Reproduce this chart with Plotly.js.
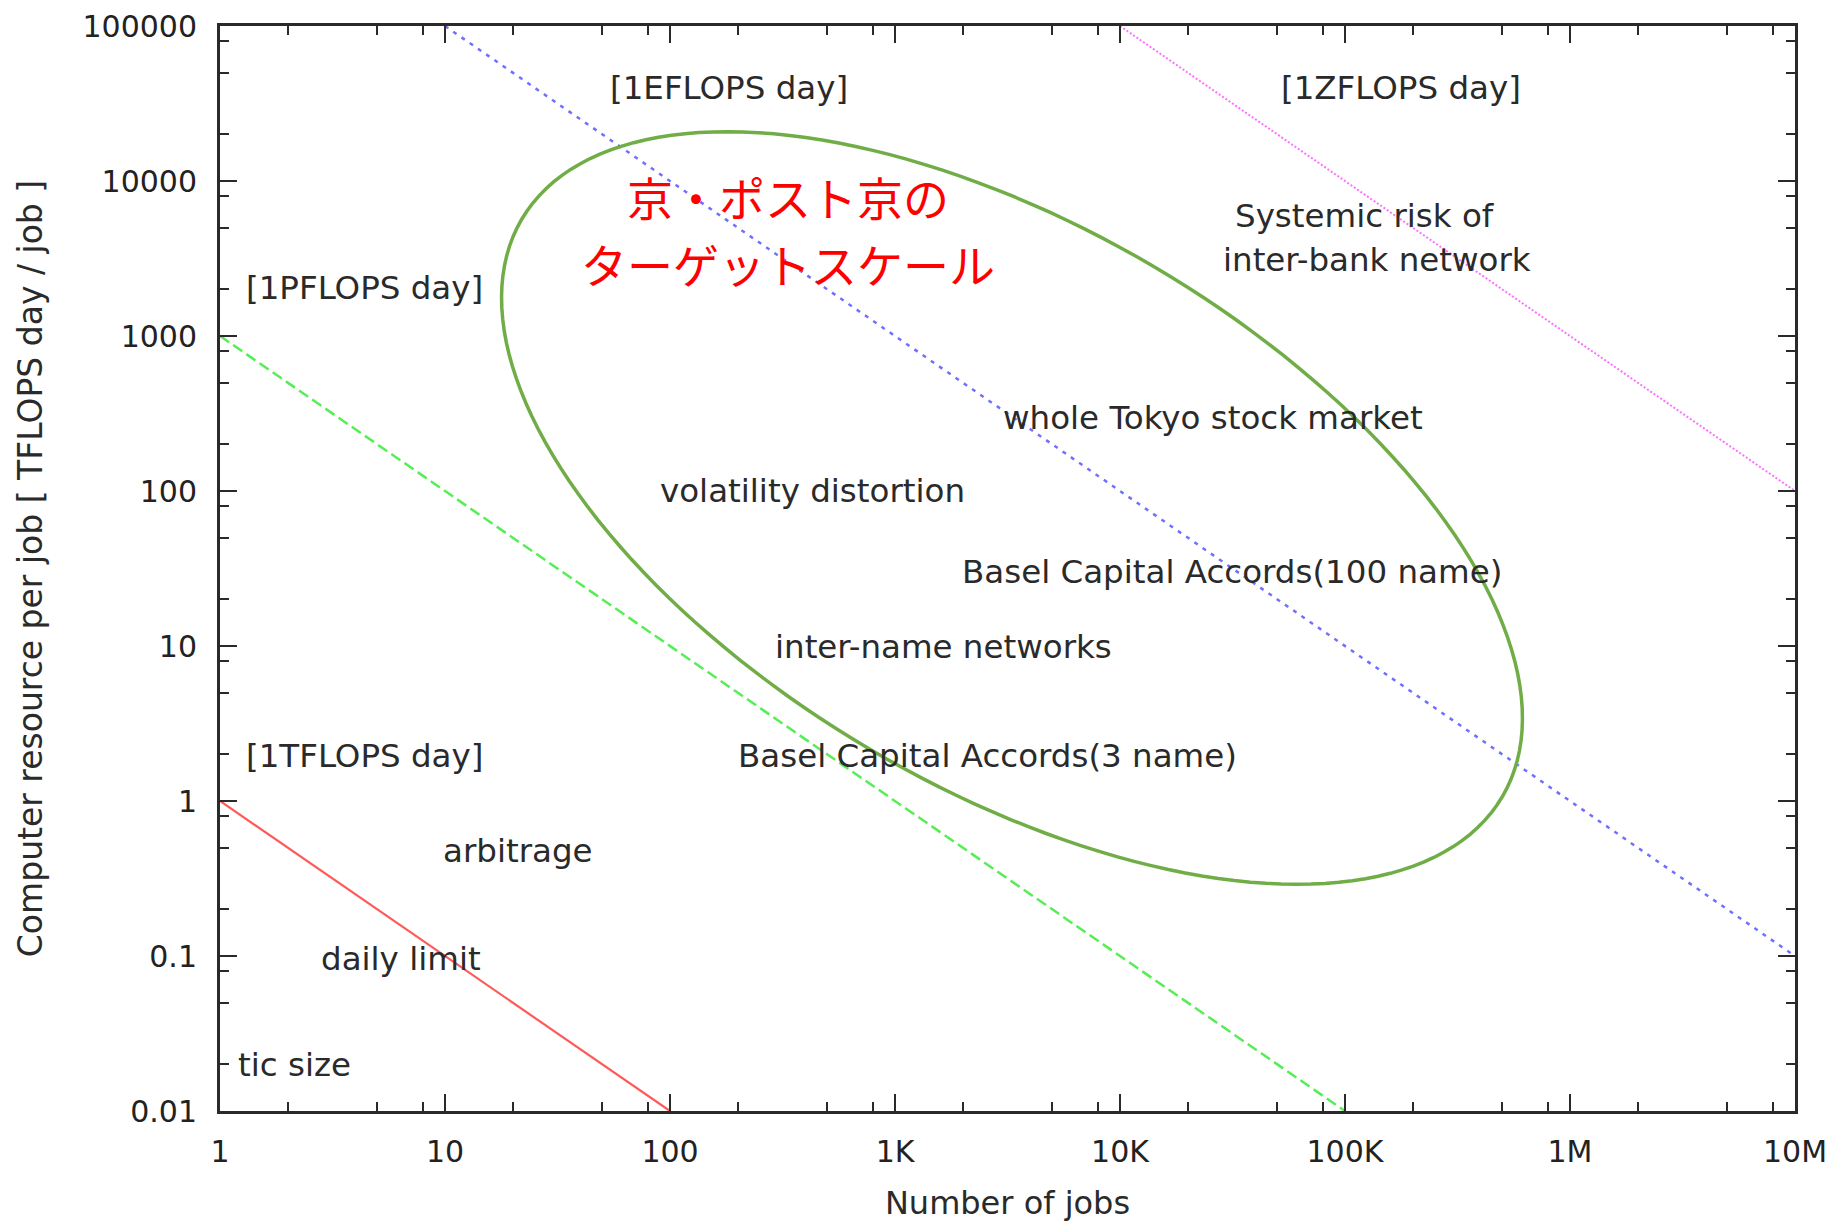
<!DOCTYPE html>
<html>
<head>
<meta charset="utf-8">
<script src="https://cdn.plot.ly/plotly-3.0.1.min.js"></script>
<style>html,body{margin:0;padding:0;background:#fff;}#chart{width:1837px;height:1222px;}</style>
</head>
<body>
<div id="chart"></div>
<script>
// ---- data ----
const xTickVals = [1, 10, 100, 1e3, 1e4, 1e5, 1e6, 1e7];
const xTickText = ['1', '10', '100', '1K', '10K', '100K', '1M', '10M'];
const yTickVals = [0.01, 0.1, 1, 10, 100, 1000, 10000, 100000];
const yTickText = ['0.01', '0.1', '1', '10', '100', '1000', '10000', '100000'];
const minorMultipliers = [2, 5, 8];

// iso-resource lines (jobs, resource per job)
const tflopsX = [1, 100];      const tflopsY = [1, 0.01];
const pflopsX = [1, 1e5];      const pflopsY = [1000, 0.01];
const eflopsX = [10, 1e7];     const eflopsY = [1e5, 0.1];
const zflopsX = [1e4, 1e7];    const zflopsY = [1e5, 100];

// text labels: [text, jobs, resource]
const labelText = ['[1EFLOPS day]', '[1ZFLOPS day]', '[1PFLOPS day]', '[1TFLOPS day]',
  'Systemic risk of', 'inter-bank network', 'whole Tokyo stock market', 'volatility distortion',
  'Basel Capital Accords(100 name)', 'inter-name networks', 'Basel Capital Accords(3 name)',
  'arbitrage', 'daily limit', 'tic size'];
const labelX = [182, 178000, 4.38, 4.38, 122700, 138300, 25800, 432, 31600, 1640, 2580, 21, 6.4, 2.15];
const labelY = [39700, 39700, 2030, 1.95, 5970, 3080, 294, 99.8, 30.1, 9.86, 1.95, 0.478, 0.0962, 0.0198];

const jpLines = ['京・ポスト京の', 'ターゲットスケール'];
const jpX = [336, 336];
const jpY = [8000, 2980];

// ---- layout geometry ----
const W = 1837, H = 1222;
const M = {l: 220, r: 42, t: 26, b: 111};
const plotW = W - M.l - M.r, plotH = H - M.t - M.b;

function minorVals(lo, hi) {
  const out = [];
  for (let e = lo; e < hi; e++) minorMultipliers.forEach(m => out.push(m * Math.pow(10, e)));
  return out;
}

// ellipse (pixel geometry) -> paper-coordinate path
const ell = {cx: 1012, cy: 508, a: 569, b: 280, rot: 30.5};
function ellipsePath() {
  const th = ell.rot * Math.PI / 180;
  let d = '';
  for (let i = 0; i <= 180; i++) {
    const t = i / 180 * 2 * Math.PI;
    const px = ell.cx + ell.a * Math.cos(th) * Math.cos(t) - ell.b * Math.sin(th) * Math.sin(t);
    const py = ell.cy + ell.a * Math.sin(th) * Math.cos(t) + ell.b * Math.cos(th) * Math.sin(t);
    const xp = (px - M.l) / plotW, yp = 1 - (py - M.t) / plotH;
    d += (i === 0 ? 'M' : 'L') + xp.toFixed(5) + ',' + yp.toFixed(5) + ' ';
  }
  return d + 'Z';
}

const traces = [
  {x: tflopsX, y: tflopsY, mode: 'lines', line: {color: '#ff5a5a', width: 2.2}},
  {x: pflopsX, y: pflopsY, mode: 'lines', line: {color: '#55ee55', width: 2.5, dash: '11px,5px'}},
  {x: eflopsX, y: eflopsY, mode: 'lines', line: {color: '#7070ff', width: 2.5, dash: '4px,6px'}},
  {x: zflopsX, y: zflopsY, mode: 'lines', line: {color: '#ff70ff', width: 2, dash: '2px,2px'}}
];

const textFont = {family: 'DejaVu Sans', size: 32.5, color: '#2a2a2a'};
const annotations = labelText.map((t, i) => ({
  x: Math.log10(labelX[i]), y: Math.log10(labelY[i]), xref: 'x', yref: 'y',
  text: t, showarrow: false, font: textFont, xanchor: 'center', yanchor: 'middle'
}));
jpLines.forEach((t, i) => annotations.push({
  x: Math.log10(jpX[i]), y: Math.log10(jpY[i]), xref: 'x', yref: 'y', text: t, showarrow: false,
  font: {family: 'Noto Sans CJK JP', size: 46, color: '#ff0000'}, xanchor: 'center', yanchor: 'middle', borderpad: 0
}));

const axisCommon = {
  type: 'log', showgrid: false, zeroline: false, showline: true, linewidth: 3, linecolor: '#2a2a2a',
  mirror: 'ticks', ticks: 'inside', ticklen: 17, tickwidth: 2, tickcolor: '#2a2a2a',
  tickfont: {family: 'DejaVu Sans', size: 30, color: '#222'}, automargin: false
};

const layout = {
  width: W, height: H, margin: M, showlegend: false,
  paper_bgcolor: '#fff', plot_bgcolor: '#fff',
  xaxis: Object.assign({}, axisCommon, {
    range: [0, 7], tickmode: 'array', tickvals: xTickVals, ticktext: xTickText,
    ticklabelstandoff: 12,
    minor: {tickmode: 'array', tickvals: minorVals(0, 7), ticks: 'inside', ticklen: 9, tickwidth: 2, tickcolor: '#2a2a2a', showgrid: false},
    title: {text: 'Number of jobs', font: {family: 'DejaVu Sans', size: 32, color: '#2a2a2a'}, standoff: 24}
  }),
  yaxis: Object.assign({}, axisCommon, {
    range: [-2, 5], tickmode: 'array', tickvals: yTickVals, ticktext: yTickText,
    ticklabelstandoff: 14,
    minor: {tickmode: 'array', tickvals: minorVals(-2, 5), ticks: 'inside', ticklen: 9, tickwidth: 2, tickcolor: '#2a2a2a', showgrid: false},
    title: {text: 'Computer resource per job [ TFLOPS day / job ]', font: {family: 'DejaVu Sans', size: 33, color: '#2a2a2a'}, standoff: 30}
  }),
  shapes: [{type: 'path', xref: 'paper', yref: 'paper', path: ellipsePath(), line: {color: '#70ad47', width: 3.5}, fillcolor: 'rgba(0,0,0,0)'}],
  annotations: annotations
};

Plotly.newPlot('chart', traces, layout, {displayModeBar: false, staticPlot: true});
</script>
</body>
</html>
